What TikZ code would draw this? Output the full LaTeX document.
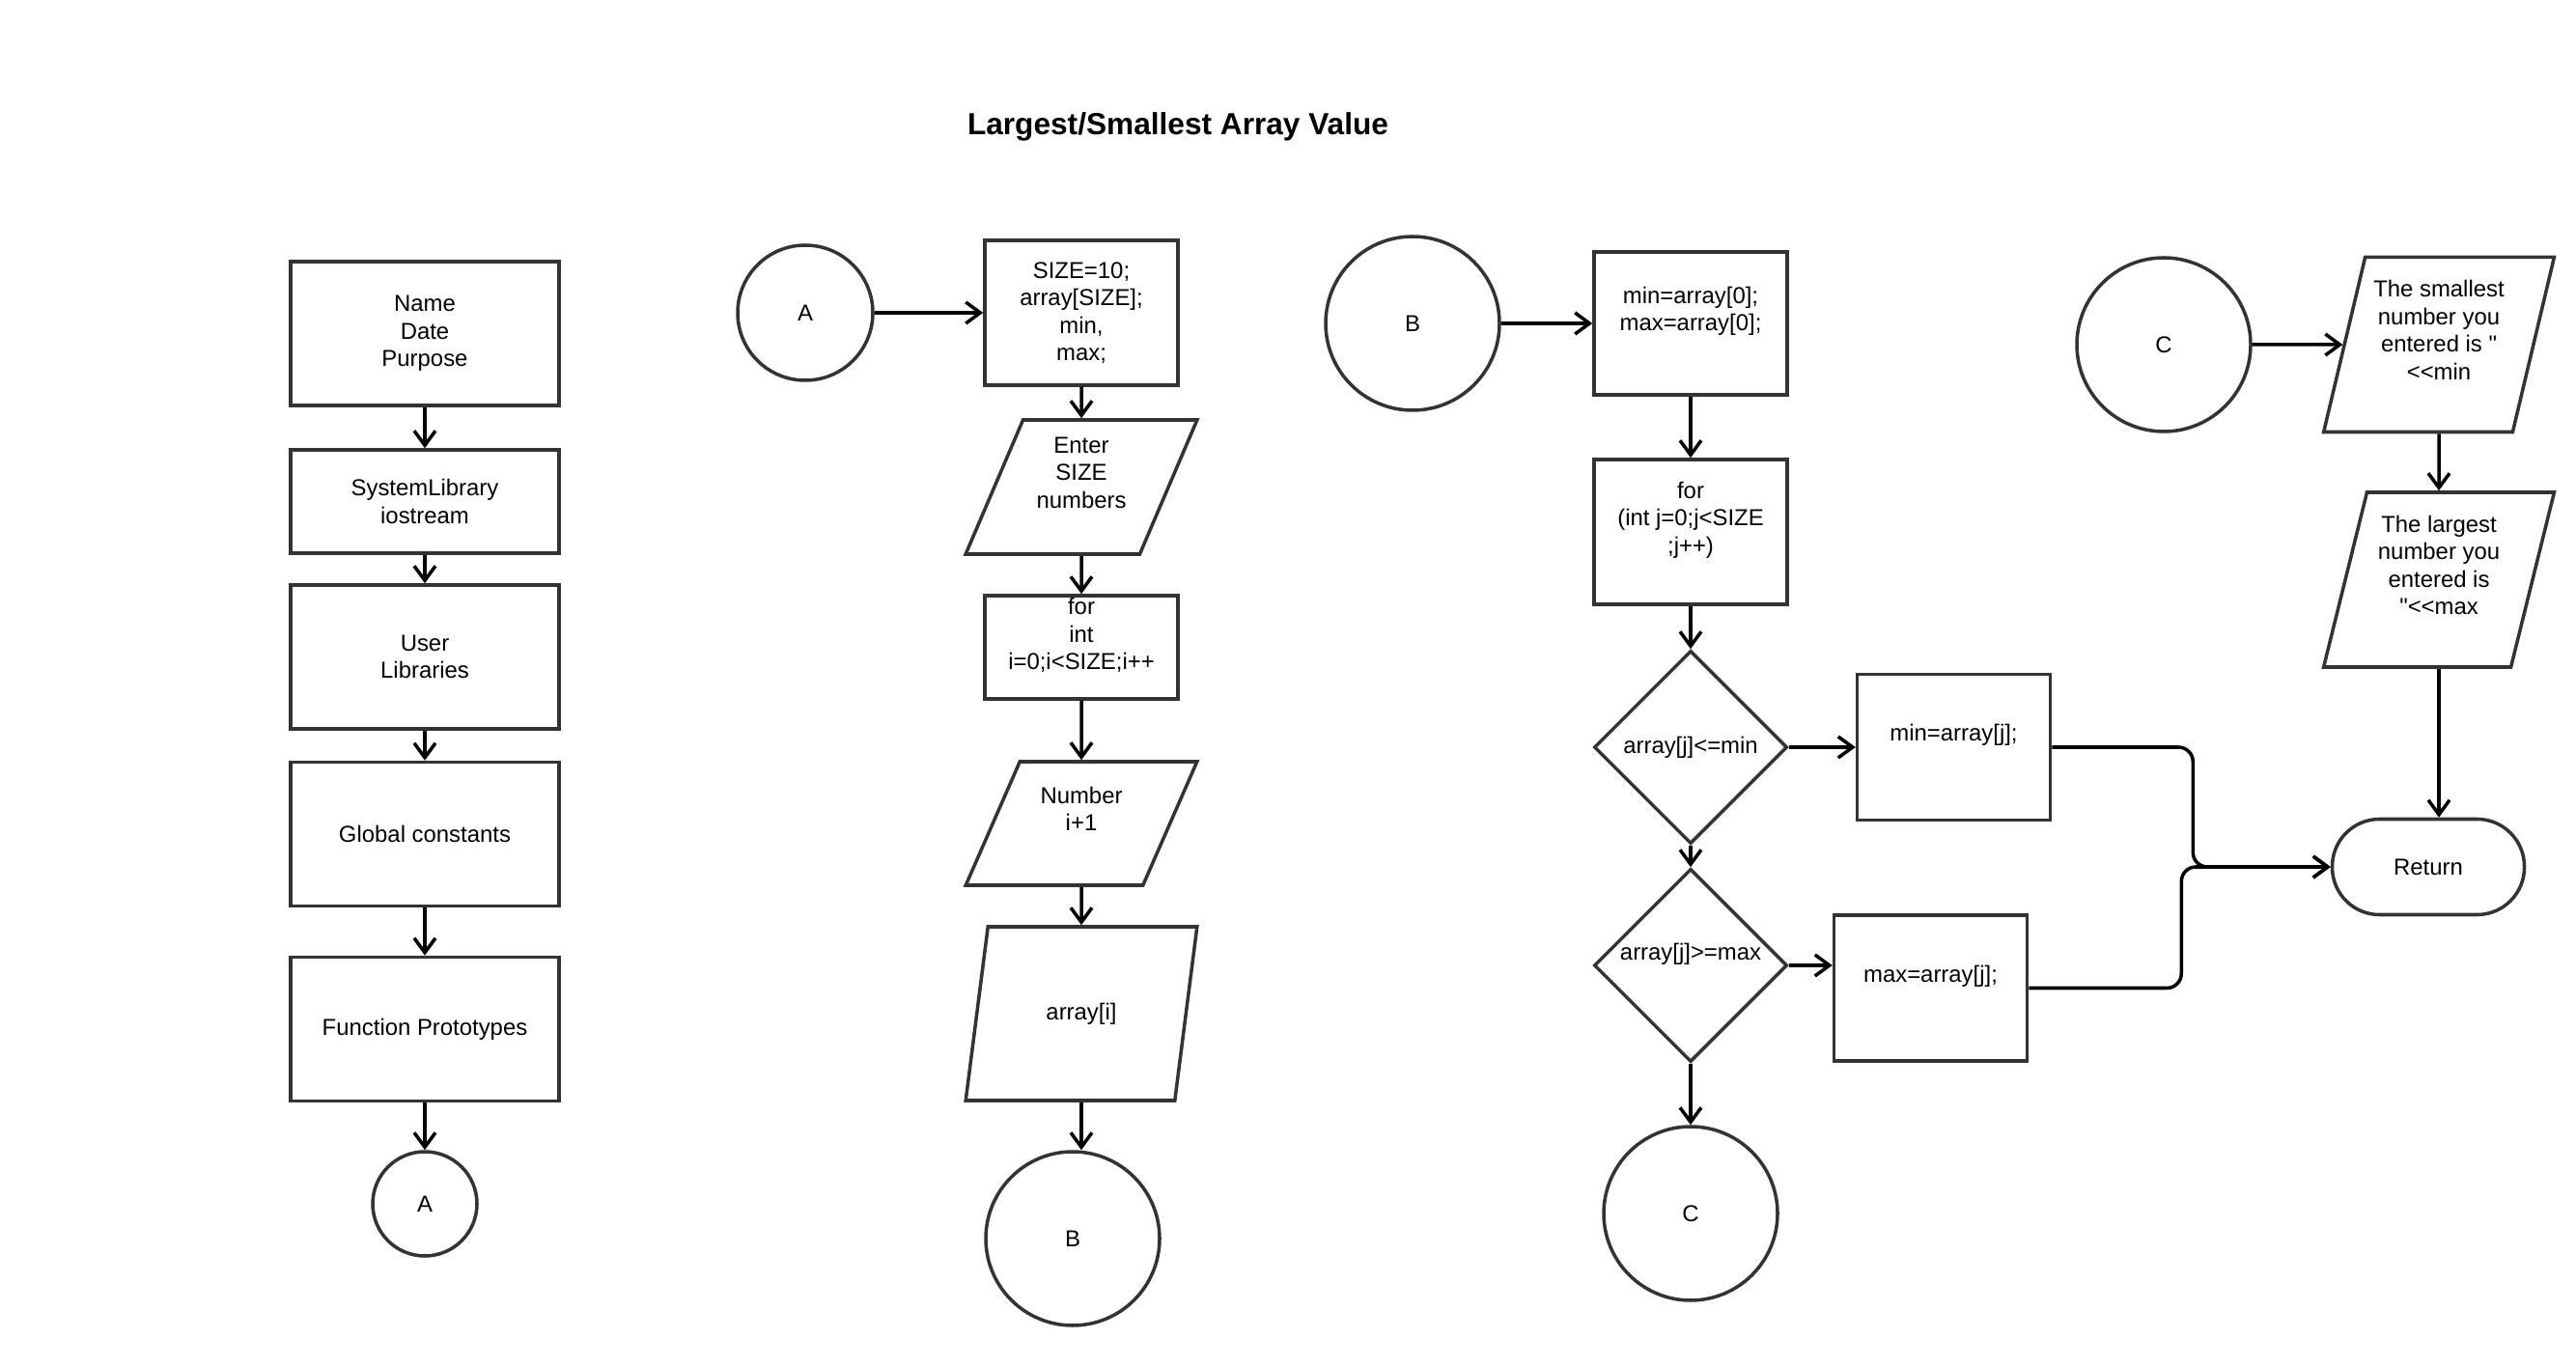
\documentclass[tikz,border=0pt]{standalone}
\usepackage{fontspec}
\setmainfont{Liberation Sans}[Ligatures=TeXOff]
\usetikzlibrary{arrows.meta, shapes.geometric}

\definecolor{edge}{HTML}{333333}

\begin{document}
\begin{tikzpicture}[
  every node/.style={font=\fontsize{6.8}{8.1}\selectfont, align=center},
  proc/.style={draw=edge, line width=1pt, minimum width=2cm, inner sep=2pt},
  io/.style={draw=edge, line width=1pt, trapezium, trapezium stretches=true, minimum width=2.4cm, inner sep=1pt},
  conn/.style={draw=edge, line width=1pt, circle, inner sep=0pt},
  test/.style={draw=edge, line width=1pt, diamond, minimum width=2cm, minimum height=2cm, inner sep=0pt},
  raised/.style={text depth=0.3cm},
]

\path[use as bounding box, fill=white] (0,0) rectangle (26.68,14.14);

\node[font=\bfseries\fontsize{9}{11}\selectfont] (title) at (12.20,12.83) {Largest/Smallest Array Value};

% main
\path[every node/.append style={proc, minimum width=2.78cm, minimum height=1.49cm}]
(4.40,10.685) node (head) {Name\\Date\\Purpose}
(4.40,8.945) node[minimum height=1.07cm] (syslib) {SystemLibrary\\iostream}
(4.40,7.335) node (userlib) {User\\Libraries}
(4.40,5.50) node (global) {Global constants}
(4.40,3.48) node (proto) {Function Prototypes}
;
\node[conn, minimum size=1.08cm] (A1) at (4.40,1.67) {A};

% input
\node[conn, minimum size=1.40cm] (A2) at (8.34,10.90) {A};
\node[proc, minimum height=1.50cm] (init) at (11.20,10.90) {SIZE=10;\\array[SIZE];\\min,\\max;};
\node[io, raised, trapezium left angle=66, trapezium right angle=114, minimum height=1.39cm] (enter) at (11.20,9.095) {Enter\\SIZE\\numbers};
\node[proc, inner sep=0pt, text depth=0.28cm, minimum height=1.07cm] (loopi) at (11.20,7.435) {for\\int\\i=0;i<SIZE;i++};
\node[io, raised, trapezium left angle=64, trapezium right angle=116, minimum height=1.28cm] (num) at (11.20,5.61) {Number\\i+1};
\node[io, trapezium left angle=72, trapezium right angle=108, minimum height=1.80cm] (readin) at (11.20,3.64) {array[i]};
\node[conn, minimum size=1.80cm] (B1) at (11.11,1.31) {B};

% min/max search
\node[conn, minimum size=1.80cm] (B2) at (14.63,10.79) {B};
\node[proc, raised, minimum height=1.48cm] (seed) at (17.51,10.79) {min=array[0];\\max=array[0];};
\node[proc, raised, minimum height=1.50cm] (loopj) at (17.51,8.63) {for\\(int j=0;j<SIZE\\;j++)};
\node[test] (lessmin) at (17.51,6.40) {array[j]<=min};
\node[test, text depth=0.28cm] (moremax) at (17.51,4.14) {array[j]>=max};
\node[conn, minimum size=1.80cm] (C1) at (17.51,1.57) {C};
\node[proc, raised, minimum height=1.51cm] (setmin) at (20.235,6.40) {min=array[j];};
\node[proc, raised, minimum height=1.51cm] (setmax) at (19.995,3.905) {max=array[j];};

% output
\node[conn, minimum size=1.80cm] (C2) at (22.41,10.57) {C};
\node[io, raised, trapezium left angle=74, trapezium right angle=106, minimum height=1.81cm] (showmin) at (25.26,10.57) {The smallest\\number you\\entered is "\\<<min};
\node[io, raised, trapezium left angle=74, trapezium right angle=106, minimum height=1.81cm] (showmax) at (25.26,8.135) {The largest\\number you\\entered is\\"<<max};
\node[draw=edge, line width=1pt, rounded corners=0.49cm, minimum width=1.99cm, minimum height=0.99cm] (ret) at (25.15,5.16) {Return};

\begin{scope}[-{Straight Barb[length=1.5mm, width=2.2mm]}, line width=1pt]
\draw (head) -- (syslib);
\draw (syslib) -- (userlib);
\draw (userlib) -- (global);
\draw (global) -- (proto);
\draw (proto) -- (A1);

\draw (A2) -- (init);
\draw (init) -- (enter);
\draw (enter) -- (loopi);
\draw (loopi) -- (num);
\draw (num) -- (readin);
\draw (readin.south) -- (readin.south |- B1.north);

\draw (B2) -- (seed);
\draw (seed) -- (loopj);
\draw (loopj) -- (lessmin);
\draw (lessmin) -- (setmin);
\draw (lessmin) -- (moremax);
\draw (moremax.east) -- (moremax.east -| setmax.west);
\draw (moremax) -- (C1);
\draw[rounded corners=0.15cm] (setmin.east) -- ++(1.46,0) |- (ret.west);
\draw[rounded corners=0.15cm] (setmax.east) -- ++(1.58,0) |- (ret.west);

\draw (C2) -- (showmin);
\draw (showmin) -- (showmax);
\draw (showmax.south) -- (showmax.south |- ret.north);
\end{scope}

\end{tikzpicture}
\end{document}
